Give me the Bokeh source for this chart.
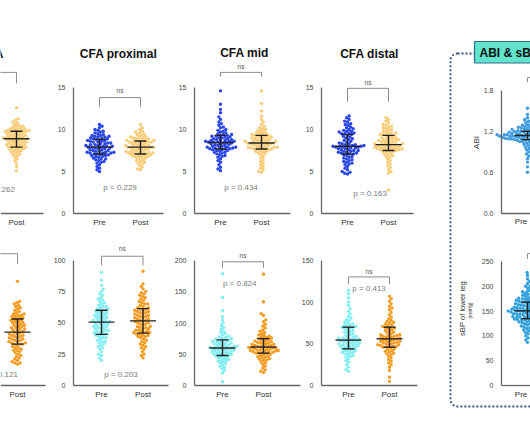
import numpy as np
from bokeh.plotting import figure
from bokeh.models import (Range1d, LinearAxis, FixedTicker, Label, BoxAnnotation,
                          PrintfTickFormatter)
from bokeh.embed import file_html
from bokeh.resources import INLINE

# ---------------------------------------------------------------- data
CATEGORIES = ["Pre", "Post"]
TITLES = ["CFA", "CFA proximal", "CFA mid", "CFA distal"]
BOX_TITLE = "ABI & sBP"
P_TOP = ["p = 0.262", "p = 0.229", "p = 0.434", "p = 0.163"]
P_BOTTOM = ["p = 0.121", "p = 0.203", "p = 0.824", "p = 0.413"]
TICKS_TOP = [0, 5, 10, 15]
TICKS_ABI = [0.0, 0.6, 1.2, 1.8]
TICKS_B1 = [0, 25, 50, 75, 100]
TICKS_B2 = [0, 50, 100, 150, 200]
TICKS_B3 = [0, 50, 100, 150]
TICKS_SBP = [0, 50, 100, 150, 200, 250]

# top row, left panel (only Post visible)
T0_POST = [12.6, 11.3, 11.1, 10.9, 10.8, 10.6, 10.5, 10.4, 10.3, 10.3, 10.2, 10.1, 10.1, 10.0, 10.0, 9.9, 9.9, 9.9, 9.8, 9.8,
           9.8, 9.7, 9.7, 9.6, 9.6, 9.5, 9.5, 9.4, 9.4, 9.3, 9.3, 9.2, 9.2, 9.1, 9.1, 9.0, 9.0, 9.0, 8.9, 8.9,
           8.9, 8.8, 8.8, 8.7, 8.7, 8.6, 8.6, 8.5, 8.5, 8.4, 8.4, 8.3, 8.3, 8.2, 8.2, 8.1, 8.1, 8.0, 8.0, 7.9,
           7.9, 7.8, 7.8, 7.7, 7.7, 7.6, 7.5, 7.5, 7.4, 7.3, 7.2, 7.1, 7.0, 6.9, 6.7, 6.5, 6.3, 6.0, 5.6, 5.1]
CFA_PROX_PRE = [10.6, 10.4, 10.2, 10.0, 9.9, 9.8, 9.7, 9.6, 9.5, 9.4, 9.3, 9.3, 9.2, 9.2, 9.1, 9.1, 9.0, 9.0, 8.9, 8.9,
                8.8, 8.8, 8.7, 8.7, 8.6, 8.6, 8.5, 8.5, 8.4, 8.4, 8.3, 8.3, 8.2, 8.2, 8.1, 8.1, 8.0, 8.0, 8.0, 7.9,
                7.9, 7.9, 7.8, 7.8, 7.7, 7.7, 7.6, 7.6, 7.5, 7.5, 7.4, 7.4, 7.3, 7.3, 7.3, 7.2, 7.2, 7.2, 7.1, 7.1,
                7.0, 7.0, 6.9, 6.9, 6.8, 6.8, 6.7, 6.6, 6.5, 6.5, 6.4, 6.3, 6.2, 6.1, 6.0, 5.8, 5.6, 5.4, 5.2, 5.0]
CFA_PROX_POST = [10.6, 10.2, 10.0, 9.8, 9.7, 9.6, 9.5, 9.4, 9.3, 9.2, 9.1, 9.1, 9.0, 9.0, 8.9, 8.9, 8.8, 8.8, 8.7, 8.7,
                 8.6, 8.6, 8.6, 8.5, 8.5, 8.5, 8.4, 8.4, 8.3, 8.3, 8.2, 8.2, 8.1, 8.1, 8.0, 8.0, 8.0, 7.9, 7.9, 7.9,
                 7.9, 7.8, 7.8, 7.7, 7.7, 7.6, 7.6, 7.5, 7.5, 7.4, 7.4, 7.3, 7.3, 7.3, 7.2, 7.2, 7.2, 7.1, 7.1, 7.1,
                 7.0, 7.0, 6.9, 6.9, 6.8, 6.8, 6.7, 6.7, 6.6, 6.5, 6.4, 6.3, 6.2, 6.1, 6.0, 5.9, 5.7, 5.5, 5.3, 5.2]
CFA_MID_PRE = [14.6, 13.0, 12.4, 12.0, 11.5, 11.2, 10.9, 10.7, 10.5, 10.3, 10.2, 10.0, 9.9, 9.8, 9.7, 9.6, 9.5, 9.4, 9.4, 9.3,
               9.3, 9.2, 9.2, 9.1, 9.1, 9.0, 9.0, 8.9, 8.9, 8.8, 8.8, 8.7, 8.7, 8.7, 8.6, 8.6, 8.6, 8.5, 8.5, 8.5,
               8.4, 8.4, 8.4, 8.3, 8.3, 8.2, 8.2, 8.1, 8.1, 8.0, 8.0, 7.9, 7.9, 7.9, 7.8, 7.8, 7.8, 7.7, 7.7, 7.7,
               7.6, 7.6, 7.5, 7.5, 7.4, 7.3, 7.3, 7.2, 7.1, 7.0, 6.9, 6.8, 6.7, 6.5, 6.3, 6.1, 5.8, 5.5, 5.3, 5.1]
CFA_MID_POST = [14.6, 13.1, 12.2, 11.6, 11.2, 10.9, 10.6, 10.4, 10.2, 10.1, 10.0, 9.9, 9.8, 9.7, 9.6, 9.5, 9.5, 9.4, 9.4, 9.3,
                9.3, 9.2, 9.2, 9.1, 9.1, 9.0, 9.0, 8.9, 8.9, 8.8, 8.8, 8.7, 8.7, 8.6, 8.6, 8.6, 8.5, 8.5, 8.5, 8.4,
                8.4, 8.4, 8.3, 8.3, 8.3, 8.2, 8.2, 8.1, 8.1, 8.0, 8.0, 7.9, 7.9, 7.9, 7.8, 7.8, 7.8, 7.7, 7.7, 7.7,
                7.6, 7.6, 7.5, 7.4, 7.4, 7.3, 7.2, 7.1, 7.0, 6.8, 6.6, 6.4, 6.2, 6.0, 5.8, 5.6, 5.4, 5.2, 5.0, 4.9]
CFA_DIST_PRE = [11.6, 11.4, 11.2, 11.0, 10.9, 10.7, 10.6, 10.5, 10.3, 10.2, 10.1, 10.0, 9.9, 9.8, 9.8, 9.7, 9.6, 9.6, 9.5, 9.5,
                9.4, 9.3, 9.2, 9.1, 9.0, 8.9, 8.8, 8.7, 8.6, 8.5, 8.4, 8.3, 8.3, 8.2, 8.2, 8.1, 8.1, 8.0, 8.0, 8.0,
                8.0, 7.9, 7.9, 7.9, 7.8, 7.8, 7.7, 7.7, 7.6, 7.6, 7.5, 7.5, 7.4, 7.4, 7.3, 7.3, 7.2, 7.2, 7.1, 7.1,
                7.0, 6.9, 6.8, 6.7, 6.6, 6.5, 6.4, 6.3, 6.2, 6.1, 6.0, 5.9, 5.8, 5.6, 5.4, 5.2, 5.0, 4.9, 4.8, 4.7]
CFA_DIST_POST = [11.4, 11.2, 11.0, 10.8, 10.6, 10.5, 10.4, 10.3, 10.2, 10.1, 10.0, 9.9, 9.8, 9.7, 9.6, 9.6, 9.5, 9.4, 9.4, 9.3,
                 9.3, 9.2, 9.1, 9.0, 9.0, 8.9, 8.9, 8.8, 8.8, 8.7, 8.7, 8.6, 8.6, 8.5, 8.5, 8.4, 8.4, 8.3, 8.3, 8.2,
                 8.2, 8.2, 8.1, 8.1, 8.1, 8.0, 8.0, 8.0, 7.9, 7.9, 7.8, 7.8, 7.8, 7.7, 7.7, 7.7, 7.6, 7.6, 7.6, 7.5,
                 7.5, 7.4, 7.4, 7.3, 7.2, 7.1, 7.0, 6.9, 6.8, 6.7, 6.5, 6.3, 6.1, 5.9, 5.7, 5.5, 5.2, 5.0, 4.8, 2.8]
ABI_PRE = [1.54, 1.45, 1.40, 1.37, 1.35, 1.33, 1.31, 1.30, 1.29, 1.28, 1.27, 1.26, 1.26, 1.25, 1.25, 1.24, 1.24, 1.23, 1.23, 1.22,
           1.22, 1.21, 1.21, 1.20, 1.20, 1.20, 1.19, 1.19, 1.18, 1.18, 1.17, 1.17, 1.17, 1.16, 1.16, 1.15, 1.15, 1.15, 1.14, 1.14,
           1.14, 1.13, 1.13, 1.13, 1.12, 1.12, 1.11, 1.11, 1.11, 1.10, 1.10, 1.10, 1.09, 1.09, 1.09, 1.08, 1.08, 1.08, 1.07, 1.07,
           1.21, 1.19, 1.18, 1.16, 1.15, 1.14, 1.13, 1.12, 1.11, 1.10, 1.09, 1.08, 1.17, 1.15, 1.12, 1.13,
           1.06, 1.06, 1.05, 1.05, 1.04, 1.03, 1.02, 1.01, 1.00, 0.99, 0.97, 0.95, 0.93, 0.90, 0.87, 0.84, 0.80, 0.75, 0.68, 0.60]

# bottom row
B0_POST = [83, 67, 66, 65, 64, 63, 62, 61, 60, 59, 58, 57, 57, 56, 56, 55, 55, 54, 54, 53,
           53, 52, 52, 51, 51, 50, 50, 49, 49, 48, 48, 47, 47, 46, 46, 45, 45, 44, 44, 43,
           42, 42, 41, 41, 40, 40, 39, 39, 38, 38, 37, 37, 36, 36, 35, 35, 34, 34, 33, 33,
           33, 32, 31, 30, 30, 29, 28, 28, 27, 26, 25, 24, 23, 22, 21, 20, 19, 18, 18, 17]
B1_PRE = [90, 84, 80, 77, 75, 73, 72, 70, 69, 68, 67, 66, 65, 64, 63, 63, 62, 61, 61, 60,
          60, 59, 59, 58, 58, 57, 57, 56, 56, 55, 55, 54, 54, 53, 53, 52, 52, 51, 51, 51,
          50, 50, 49, 49, 48, 48, 47, 47, 46, 46, 45, 45, 44, 44, 43, 43, 42, 42, 41, 41,
          40, 40, 39, 38, 38, 37, 36, 35, 35, 34, 33, 32, 31, 30, 29, 27, 25, 24, 22, 20]
B1_POST = [91, 81, 79, 77, 75, 74, 73, 72, 71, 70, 69, 68, 67, 66, 65, 65, 64, 63, 62, 62,
           61, 61, 60, 60, 59, 59, 58, 58, 57, 57, 56, 56, 55, 55, 54, 54, 53, 53, 52, 52,
           51, 51, 50, 50, 49, 49, 48, 47, 47, 46, 46, 45, 45, 44, 44, 43, 43, 42, 42, 42,
           41, 41, 40, 40, 39, 39, 38, 37, 36, 35, 34, 33, 32, 31, 30, 29, 27, 25, 24, 22]
B2_PRE = [179, 141, 120, 110, 105, 100, 96, 93, 90, 87, 85, 83, 81, 79, 78, 77, 76, 75, 74, 73,
          73, 72, 71, 70, 70, 69, 68, 67, 67, 66, 65, 65, 64, 63, 63, 62, 62, 61, 61, 60,
          60, 59, 59, 58, 58, 57, 57, 56, 55, 55, 54, 54, 53, 52, 52, 51, 50, 50, 49, 48,
          48, 47, 46, 45, 44, 43, 42, 41, 40, 39, 38, 36, 35, 33, 31, 29, 27, 24, 20, 6]
B2_POST = [178, 134, 115, 112, 105, 102, 98, 95, 92, 89, 87, 85, 83, 81, 80, 79, 78, 77, 76, 75,
           75, 74, 73, 72, 71, 70, 70, 69, 68, 68, 67, 66, 66, 65, 64, 64, 63, 63, 62, 62,
           61, 61, 60, 60, 59, 59, 58, 58, 57, 57, 56, 56, 55, 55, 54, 54, 53, 53, 52, 52,
           51, 50, 49, 48, 47, 46, 45, 44, 43, 42, 41, 40, 38, 36, 34, 31, 28, 25, 23, 21]
B3_PRE = [114, 110, 105, 100, 96, 92, 89, 86, 83, 81, 79, 78, 76, 75, 74, 73, 72, 71, 71, 70,
          70, 69, 68, 67, 66, 65, 64, 63, 62, 61, 60, 59, 58, 58, 57, 57, 56, 56, 55, 55,
          54, 54, 53, 53, 52, 52, 51, 51, 50, 50, 49, 49, 48, 48, 47, 47, 46, 46, 45, 44,
          44, 43, 42, 42, 41, 40, 40, 39, 38, 37, 36, 35, 34, 32, 30, 28, 25, 22, 19, 17]
B3_POST = [107, 104, 101, 98, 95, 93, 91, 88, 85, 82, 80, 78, 77, 76, 75, 74, 73, 72, 71, 70,
           70, 69, 68, 67, 66, 65, 64, 63, 62, 61, 61, 60, 60, 59, 59, 58, 58, 57, 57, 56,
           56, 55, 55, 54, 54, 53, 53, 52, 52, 51, 51, 50, 50, 49, 49, 48, 48, 47, 47, 46,
           46, 45, 44, 43, 42, 41, 40, 39, 38, 37, 35, 33, 31, 29, 27, 25, 22, 18, 10, 5]
SBP_PRE = [228, 222, 215, 210, 205, 200, 196, 192, 189, 186, 184, 182, 180, 179, 177, 176, 175, 174, 173, 172,
           190, 185, 178, 175, 200,
           171, 170, 169, 168, 167, 166, 165, 164, 163, 162, 161, 160, 159, 158, 157, 156, 155, 154, 153, 152,
           151, 150, 149, 148, 147, 146, 145, 144, 143, 142, 141, 140, 139, 138, 137, 136, 135, 134, 133, 132,
           170, 168, 166, 165, 163, 161, 160, 158, 157, 155, 154, 153, 152, 151, 150, 150, 149, 148, 147, 146,
           145, 144, 142, 141, 139, 138, 136, 135, 133, 132,
           131, 130, 129, 128, 127, 126, 124, 122, 120, 118, 116, 114, 112, 110, 107, 104, 100, 96, 92, 87,
           128, 125, 120, 115, 110]

TOP_PRE_C, TOP_POST_C = "#2a46e6", "#f9cd78"
BOT_PRE_C, BOT_POST_C = "#82eef2", "#f59c20"
ABI_C, SBP_C = "#3c9be0", "#2fa0dc"

FONT = "Liberation Sans"

# ---------------------------------------------------------------- layout (pixel positions in the picture)
W, H, OFF = 530, 442, 0
p = figure(width=W, height=H, x_range=Range1d(OFF, OFF + W), y_range=Range1d(OFF + H, OFF),
           output_backend="svg", toolbar_location=None, x_axis_type=None, y_axis_type=None,
           min_border=0, title=None, outline_line_color=None)
p.background_fill_color = "white"
p.border_fill_color = "white"

PANELS = [
    dict(n="t0", xpre=-25, xpost=16, y0=213, ytop=87, ymax=15, ax=None, xl=-70, xr=43, ticks=TICKS_TOP, fmt="%d",
         groups=[(None, None), (T0_POST, TOP_POST_C)], br=(16.8, 15.5), ns=None, pt=P_TOP[0], pp=(1.55, 2.86)),
    dict(n="t1", xpre=99, xpost=140, y0=213, ytop=87, ymax=15, ax=73, xl=73, xr=163, ticks=TICKS_TOP, fmt="%d",
         groups=[(CFA_PROX_PRE, TOP_PRE_C), (CFA_PROX_POST, TOP_POST_C)], br=(13.8, 12.7), ns=14.6, pt=P_TOP[1], pp=(1.5, 3.1)),
    dict(n="t2", xpre=220, xpost=261, y0=213, ytop=87, ymax=15, ax=194, xl=194, xr=290, ticks=TICKS_TOP, fmt="%d",
         groups=[(CFA_MID_PRE, TOP_PRE_C), (CFA_MID_POST, TOP_POST_C)], br=(16.8, 16.3), ns=17.5, pt=P_TOP[2], pp=(1.5, 3.1)),
    dict(n="t3", xpre=347, xpost=388, y0=213, ytop=87, ymax=15, ax=321, xl=321, xr=413, ticks=TICKS_TOP, fmt="%d",
         groups=[(CFA_DIST_PRE, TOP_PRE_C), (CFA_DIST_POST, TOP_POST_C)], br=(14.9, 13.3), ns=15.6, pt=P_TOP[3], pp=(1.55, 2.4)),
    dict(n="t4", xpre=527, xpost=568, y0=212.7, ytop=90, ymax=1.8, ax=501, xl=501, xr=620, ticks=TICKS_ABI, fmt="%.1f",
         groups=[(ABI_PRE, ABI_C), (None, None)], br=(1.99, 1.92), ns=None, pt=None, pp=None),
    dict(n="b0", xpre=-24, xpost=17, y0=385, ytop=259.5, ymax=100, ax=None, xl=-70, xr=45, ticks=TICKS_B1, fmt="%d",
         groups=[(None, None), (B0_POST, BOT_POST_C)], br=(105, 97), ns=None, pt=P_BOTTOM[0], pp=(1.6, 8.8)),
    dict(n="b1", xpre=101, xpost=142.5, y0=385, ytop=259.5, ymax=100, ax=73, xl=73, xr=168, ticks=TICKS_B1, fmt="%d",
         groups=[(B1_PRE, BOT_PRE_C), (B1_POST, BOT_POST_C)], br=(103, 95.6), ns=109, pt=P_BOTTOM[1], pp=(1.47, 8.8)),
    dict(n="b2", xpre=222, xpost=263, y0=385, ytop=260, ymax=200, ax=194, xl=194, xr=300, ticks=TICKS_B2, fmt="%d",
         groups=[(B2_PRE, BOT_PRE_C), (B2_POST, BOT_POST_C)], br=(198, 188.5), ns=208.8, pt=P_BOTTOM[2], pp=(1.42, 162.5)),
    dict(n="b3", xpre=348, xpost=389, y0=385, ytop=260, ymax=150, ax=321, xl=321, xr=417, ticks=TICKS_B3, fmt="%d",
         groups=[(B3_PRE, BOT_PRE_C), (B3_POST, BOT_POST_C)], br=(130.3, 121.5), ns=137.4, pt=P_BOTTOM[3], pp=(1.5, 116.3)),
    dict(n="b4", xpre=527, xpost=568, y0=385, ytop=261, ymax=250, ax=501, xl=501, xr=620, ticks=TICKS_SBP, fmt="%d",
         groups=[(SBP_PRE, SBP_C), (None, None)], br=(266, 255), ns=None, pt=None, pp=None),
]


def swarm(vals, scale, d):
    """beeswarm offsets (pixels) for values drawn at `scale` px per unit"""
    ys = np.asarray(vals, dtype=float) * scale
    order = np.argsort(ys, kind="stable")
    placed = []
    xs = np.zeros(len(ys))
    for k, i in enumerate(order):
        y = ys[i]
        near = [(py, px) for (py, px) in placed if abs(py - y) < d]
        cands = [0.0]
        for py, px in near:
            dx = np.sqrt(max(d * d - (py - y) ** 2, 0.0))
            cands += [px + dx, px - dx]
        sign = 1 if k % 2 == 0 else -1
        cands.sort(key=lambda c: (round(abs(c), 6), -sign * c))
        for c in cands:
            if all((c - px) ** 2 + (y - py) ** 2 >= d * d - 1e-6 for py, px in near):
                xs[i] = c
                break
        placed.append((y, xs[i]))
    return xs


for P in PANELS:
    n = P["n"]
    dxp = P["xpost"] - P["xpre"]                    # px per x unit
    sy = (P["y0"] - P["ytop"]) / P["ymax"]          # px per y unit
    p.extra_x_ranges[n] = Range1d(1 + (OFF - P["xpre"]) / dxp, 1 + (OFF + W - P["xpre"]) / dxp)
    p.extra_y_ranges[n] = Range1d((P["y0"] - (OFF + H)) / sy, (P["y0"] - OFF) / sy)
    kw = dict(x_range_name=n, y_range_name=n)

    # y axis
    if P["ax"] is not None:
        ya = LinearAxis(y_range_name=n, fixed_location=P["ax"], bounds=(0, P["ymax"]),
                        ticker=FixedTicker(ticks=P["ticks"]), formatter=PrintfTickFormatter(format=P["fmt"]))
        ya.axis_line_color = "#666666"
        ya.axis_line_width = 1.3
        ya.major_tick_line_color = None
        ya.minor_tick_line_color = None
        ya.major_tick_out = 0
        ya.major_label_standoff = 8
        ya.major_label_text_font = FONT
        ya.major_label_text_font_size = "7px"
        ya.major_label_text_color = "#444444"
        p.add_layout(ya, "left")

    # x axis: only the categories whose centre falls inside the picture get a label
    xl = 1 + (P["xl"] - P["xpre"]) / dxp
    xr = 1 + (P["xr"] - P["xpre"]) / dxp
    lo, hi = 1 + (OFF - P["xpre"]) / dxp, 1 + (OFF + W - P["xpre"]) / dxp
    shown = [t for t in (1, 2) if lo <= t <= hi]
    xa = LinearAxis(x_range_name=n, y_range_name=n, fixed_location=0, bounds=(xl, xr),
                    ticker=FixedTicker(ticks=shown),
                    major_label_overrides={1: CATEGORIES[0], 2: CATEGORIES[1]})
    xa.axis_line_color = "#666666"
    xa.axis_line_width = 1.3
    xa.major_tick_line_color = None
    xa.minor_tick_line_color = None
    xa.major_tick_out = 0
    xa.major_label_standoff = 4
    xa.major_label_text_font = FONT
    xa.major_label_text_font_size = "8px"
    xa.major_label_text_color = "#333333"
    p.add_layout(xa, "below")

    # dots + median / IQR
    for gi, (vals, col) in enumerate(P["groups"]):
        if vals is None:
            continue
        c = gi + 1
        offs = swarm(vals, sy, 3.0)
        p.scatter(x=list(c + offs / dxp), y=list(vals), size=3.4, fill_color=col, line_color=None, **kw)
        q1, med, q3 = np.percentile(vals, [25, 50, 75])
        hw, cw = 13.0 / dxp, 6.0 / dxp
        p.segment(x0=[c - hw, c, c - cw, c - cw], y0=[med, q1, q1, q3],
                  x1=[c + hw, c, c + cw, c + cw], y1=[med, q3, q1, q3],
                  line_color="#222222", line_width=1.4, **kw)

    # significance bracket
    top, leg = P["br"]
    p.line(x=[1, 1, 2, 2], y=[leg, top, top, leg], line_color="#8c8c8c", line_width=1, **kw)
    if P["ns"] is not None:
        p.add_layout(Label(x=1.5, y=P["ns"], text="ns", text_align="center", text_baseline="middle",
                           text_font=FONT, text_font_size="6.5px", text_color="#555555", **kw))
    if P["pt"] is not None:
        p.add_layout(Label(x=P["pp"][0], y=P["pp"][1], text=P["pt"], text_align="center",
                           text_baseline="middle", text_font=FONT, text_font_size="8px",
                           text_color="#7a7a7a", **kw))

# panel titles
for t, (tx, ty) in zip(TITLES, [(-9, 53), (118, 53), (244, 52.5), (369, 53)]):
    p.add_layout(Label(x=tx, y=ty, text=t, text_align="center", text_baseline="middle",
                       text_font=FONT, text_font_style="bold", text_font_size="12px", text_color="#111111"))

# ABI & sBP group box
p.add_layout(BoxAnnotation(left=450, right=640, top=53, bottom=406, fill_color=None, fill_alpha=0,
                           line_color="#3a5080", line_alpha=1, line_width=1.8, line_dash="2 2",
                           border_radius=7))
p.add_layout(BoxAnnotation(left=474, right=640, top=41, bottom=62.5, fill_color="#62e3cd", fill_alpha=1,
                           line_color="#2f6f8a", line_alpha=1, line_width=1.2))
p.add_layout(Label(x=479, y=52, text=BOX_TITLE, text_baseline="middle", text_font=FONT,
                   text_font_style="bold", text_font_size="12px", text_color="#111111"))

# y-axis titles of the ABI / sBP panels
p.add_layout(Label(x=476, y=142, text="ABI", angle=np.pi / 2, text_align="center", text_baseline="middle",
                   text_font=FONT, text_font_size="8px", text_color="#333333"))
p.add_layout(Label(x=462, y=308, text="sBP of lower leg", angle=np.pi / 2, text_align="center",
                   text_baseline="middle", text_font=FONT, text_font_size="7.6px", text_color="#333333"))
p.add_layout(Label(x=469.5, y=310, text="(mmHg)", angle=np.pi / 2, text_align="center",
                   text_baseline="middle", text_font=FONT, text_font_size="4.5px", text_color="#333333"))

open("out.html", "w").write(file_html(p, INLINE))
